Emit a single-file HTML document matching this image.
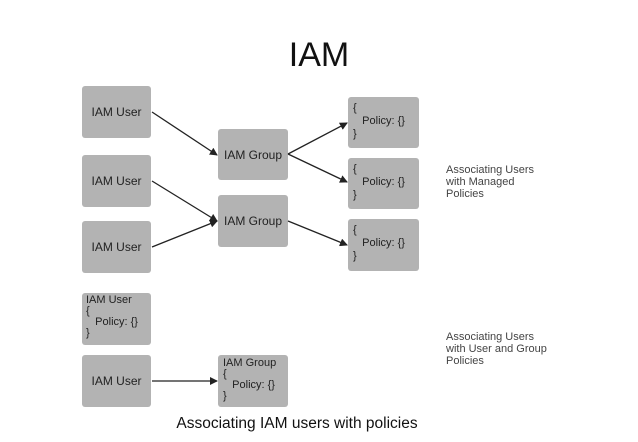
<!DOCTYPE html>
<html><head><style>
body{margin:0;width:638px;height:442px;background:#fff;position:relative;overflow:hidden;font-family:"Liberation Sans",sans-serif}
.b{position:absolute;background:#b3b3b3;border-radius:3px;color:#222;font-size:12px;box-sizing:border-box}
.c{display:flex;align-items:center;justify-content:center}
.t{position:absolute;font-size:11px;color:#444;line-height:12px}
</style></head><body>
<div style="position:absolute;left:0;width:638px;top:36px;text-align:center;font-size:34px;color:#111">IAM</div>
<div class="b c" style="left:82px;top:86px;width:69px;height:52px">IAM User</div>
<div class="b c" style="left:82px;top:155px;width:69px;height:52px">IAM User</div>
<div class="b c" style="left:82px;top:221px;width:69px;height:52px">IAM User</div>
<div class="b c" style="left:218px;top:129px;width:70px;height:51px">IAM Group</div>
<div class="b c" style="left:218px;top:195px;width:70px;height:52px">IAM Group</div>
<div class="b" style="left:348px;top:97px;width:71px;height:51px;padding:5px 0 0 5px;line-height:13px;font-size:11px">{<br>&nbsp;&nbsp;&nbsp;Policy: {}<br>}</div>
<div class="b" style="left:348px;top:158px;width:71px;height:51px;padding:5px 0 0 5px;line-height:13px;font-size:11px">{<br>&nbsp;&nbsp;&nbsp;Policy: {}<br>}</div>
<div class="b" style="left:348px;top:219px;width:71px;height:52px;padding:5px 0 0 5px;line-height:13px;font-size:11px">{<br>&nbsp;&nbsp;&nbsp;Policy: {}<br>}</div>
<div class="b" style="left:82px;top:293px;width:69px;height:52px;padding:2px 0 0 4px;line-height:11px;font-size:11px">IAM User<br>{<br>&nbsp;&nbsp;&nbsp;Policy: {}<br>}</div>
<div class="b c" style="left:82px;top:355px;width:69px;height:52px">IAM User</div>
<div class="b" style="left:218px;top:355px;width:70px;height:52px;padding:3px 0 0 5px;line-height:11px;font-size:11px">IAM Group<br>{<br>&nbsp;&nbsp;&nbsp;Policy: {}<br>}</div>
<div class="t" style="left:446px;top:164px">Associating Users<br>with Managed<br>Policies</div>
<div class="t" style="left:446px;top:331px">Associating Users<br>with User and Group<br>Policies</div>
<div style="position:absolute;left:0;width:594px;top:415px;text-align:center;font-size:15.5px;color:#111">Associating IAM users with policies</div>
<svg width="638" height="442" style="position:absolute;left:0;top:0">
<defs><marker id="a" markerWidth="8" markerHeight="8" refX="7" refY="4" orient="auto" markerUnits="userSpaceOnUse"><path d="M0,0 L8,4 L0,8 z" fill="#222"/></marker></defs>
<g stroke="#222" stroke-width="1.3" marker-end="url(#a)">
<line x1="152" y1="112" x2="217" y2="155"/>
<line x1="152" y1="181" x2="217" y2="221"/>
<line x1="152" y1="247" x2="217" y2="221"/>
<line x1="288" y1="154" x2="347" y2="123"/>
<line x1="288" y1="154" x2="347" y2="182"/>
<line x1="288" y1="221" x2="347" y2="245"/>
<line x1="152" y1="381" x2="217" y2="381"/>
</g></svg>
</body></html>
